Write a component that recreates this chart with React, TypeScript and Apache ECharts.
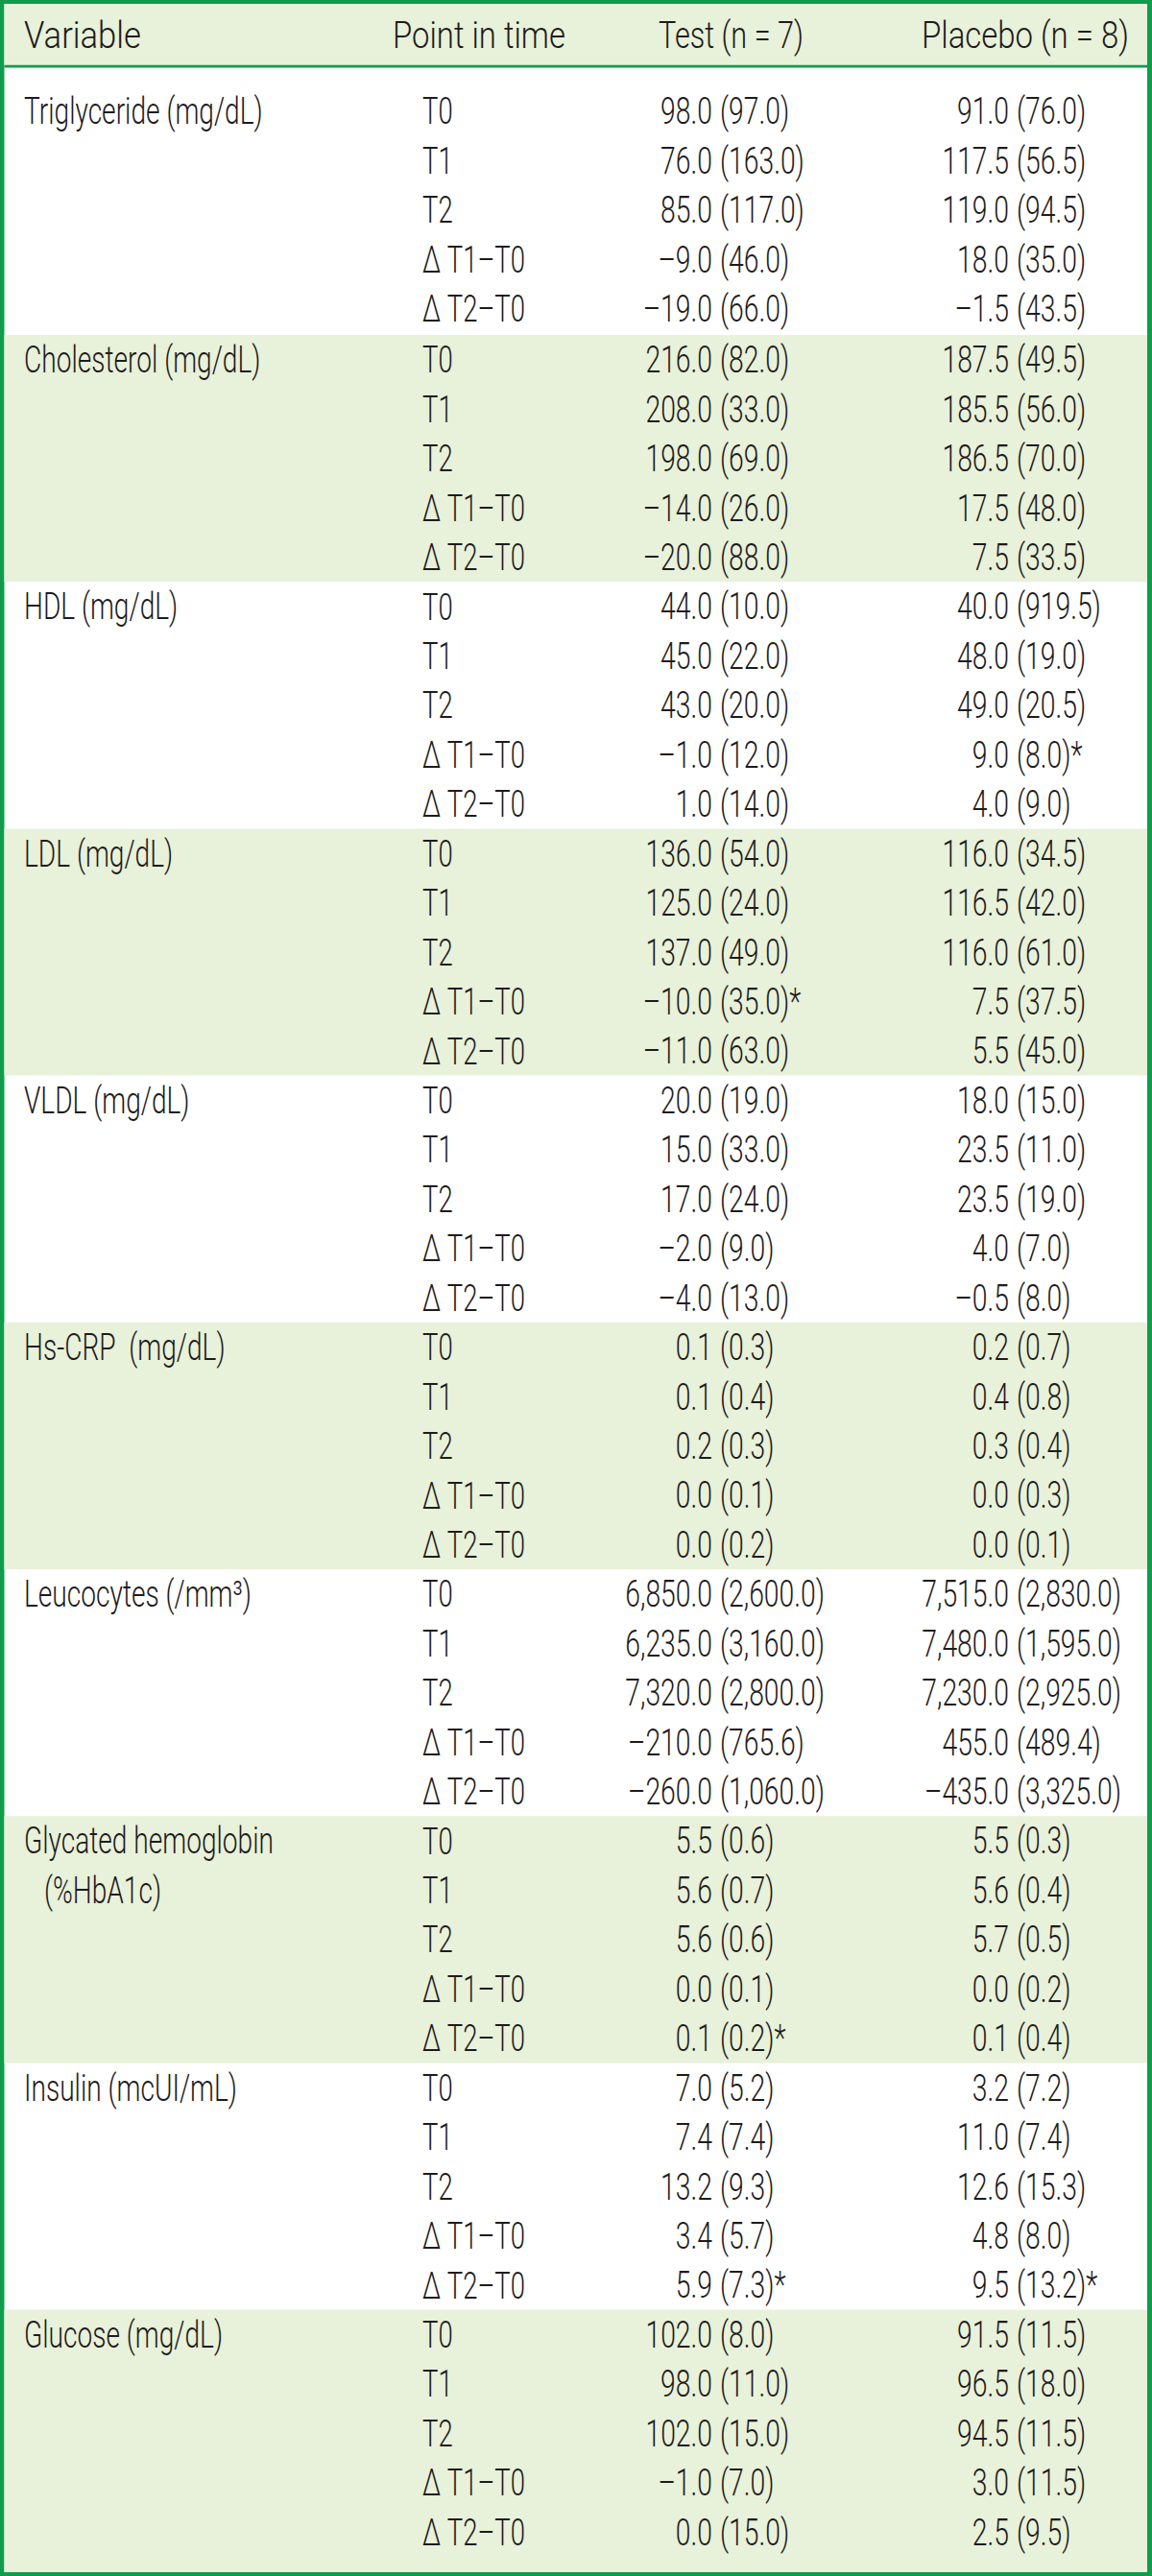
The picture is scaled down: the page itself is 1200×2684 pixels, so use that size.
import React, { useEffect, useRef } from "react";
import * as echarts from "echarts";

const W = 1200;
const H = 2684;

const headers = ["Variable", "Point in time", "Test (n = 7)", "Placebo (n = 8)"];
const variables = [
  "Triglyceride (mg/dL)",
  "Cholesterol (mg/dL)",
  "HDL (mg/dL)",
  "LDL (mg/dL)",
  "VLDL (mg/dL)",
  "Hs-CRP  (mg/dL)",
  "Leucocytes (/mm\u00b3)",
  "Glycated hemoglobin",
  "Insulin (mcUI/mL)",
  "Glucose (mg/dL)",
];
const variableSubLines = ["", "", "", "", "", "", "", "(%HbA1c)", "", ""];
const timePoints = ["T0", "T1", "T2", "\u0394 T1\u2013T0", "\u0394 T2\u2013T0"];

// [median, IQR] for each time point, per variable
const testValues = [
  [[98.0, 97.0], [76.0, 163.0], [85.0, 117.0], [-9.0, 46.0], [-19.0, 66.0]],
  [[216.0, 82.0], [208.0, 33.0], [198.0, 69.0], [-14.0, 26.0], [-20.0, 88.0]],
  [[44.0, 10.0], [45.0, 22.0], [43.0, 20.0], [-1.0, 12.0], [1.0, 14.0]],
  [[136.0, 54.0], [125.0, 24.0], [137.0, 49.0], [-10.0, 35.0], [-11.0, 63.0]],
  [[20.0, 19.0], [15.0, 33.0], [17.0, 24.0], [-2.0, 9.0], [-4.0, 13.0]],
  [[0.1, 0.3], [0.1, 0.4], [0.2, 0.3], [0.0, 0.1], [0.0, 0.2]],
  [[6850.0, 2600.0], [6235.0, 3160.0], [7320.0, 2800.0], [-210.0, 765.6], [-260.0, 1060.0]],
  [[5.5, 0.6], [5.6, 0.7], [5.6, 0.6], [0.0, 0.1], [0.1, 0.2]],
  [[7.0, 5.2], [7.4, 7.4], [13.2, 9.3], [3.4, 5.7], [5.9, 7.3]],
  [[102.0, 8.0], [98.0, 11.0], [102.0, 15.0], [-1.0, 7.0], [0.0, 15.0]],
];
const placeboValues = [
  [[91.0, 76.0], [117.5, 56.5], [119.0, 94.5], [18.0, 35.0], [-1.5, 43.5]],
  [[187.5, 49.5], [185.5, 56.0], [186.5, 70.0], [17.5, 48.0], [7.5, 33.5]],
  [[40.0, 919.5], [48.0, 19.0], [49.0, 20.5], [9.0, 8.0], [4.0, 9.0]],
  [[116.0, 34.5], [116.5, 42.0], [116.0, 61.0], [7.5, 37.5], [5.5, 45.0]],
  [[18.0, 15.0], [23.5, 11.0], [23.5, 19.0], [4.0, 7.0], [-0.5, 8.0]],
  [[0.2, 0.7], [0.4, 0.8], [0.3, 0.4], [0.0, 0.3], [0.0, 0.1]],
  [[7515.0, 2830.0], [7480.0, 1595.0], [7230.0, 2925.0], [455.0, 489.4], [-435.0, 3325.0]],
  [[5.5, 0.3], [5.6, 0.4], [5.7, 0.5], [0.0, 0.2], [0.1, 0.4]],
  [[3.2, 7.2], [11.0, 7.4], [12.6, 15.3], [4.8, 8.0], [9.5, 13.2]],
  [[91.5, 11.5], [96.5, 18.0], [94.5, 11.5], [3.0, 11.5], [2.5, 9.5]],
];
// significance markers [variable index, time index]
const testSignificant = [[3, 3], [7, 4], [8, 4]];
const placeboSignificant = [[2, 3], [8, 4]];

const GREEN = "#0f9d4b";
const BAND = "#e8f1d9";
const TEXT = "#1e1b1c";
const FONT = '300 38px Roboto, "Liberation Sans", sans-serif';

function fmt(v: number): string {
  const neg = v < 0;
  const s = Math.abs(v).toFixed(1);
  const [ip, dp] = s.split(".");
  const withComma = ip.replace(/\B(?=(\d{3})+(?!\d))/g, ",");
  return (neg ? "\u2013" : "") + withComma + "." + dp;
}

function makeMeasure() {
  let ctx: CanvasRenderingContext2D | null = null;
  try {
    ctx = document.createElement("canvas").getContext("2d");
    if (ctx) ctx.font = FONT;
  } catch (e) {
    ctx = null;
  }
  return (sample: string, target: number, fallback: number) => {
    if (!ctx) return fallback;
    const w = ctx.measureText(sample).width;
    return w ? target / w : fallback;
  };
}

function buildElements() {
  const fit = makeMeasure();
  const sxText = fit("Triglyceride (mg/dL)", 249, 0.75);
  const sxNum = fit("98.0 (97.0)", 133, 0.75);
  const sxTime = fit("\u0394 T1\u2013T0", 107, 0.75);
  const headerTargets = [122, 180, 151, 216];

  const txt = (text: string, x: number, y: number, align: string, sx: number) => ({
    type: "text",
    silent: true,
    x,
    y,
    scaleX: sx,
    style: {
      text,
      x: 0,
      y: 0,
      fill: TEXT,
      font: FONT,
      textAlign: align,
      textVerticalAlign: "middle",
      align,
      verticalAlign: "middle",
    },
  });
  const isSig = (list: number[][], g: number, r: number) => list.some((p) => p[0] === g && p[1] === r);

  const els: any[] = [];
  els.push({ type: "rect", shape: { x: 0, y: 0, width: W, height: H }, style: { fill: GREEN } });
  els.push({ type: "rect", shape: { x: 4.5, y: 4, width: 1190.5, height: 2676 }, style: { fill: "#ffffff" } });
  els.push({ type: "rect", shape: { x: 4.5, y: 4, width: 1190.5, height: 64 }, style: { fill: BAND } });
  els.push({ type: "rect", shape: { x: 4.5, y: 67.8, width: 1190.5, height: 2.6 }, style: { fill: GREEN } });

  const headerY = 37;
  const hx = [25, 409, 837, 1176];
  const ha = ["left", "left", "right", "right"];
  headers.forEach((h, i) => {
    els.push(txt(h, hx[i], headerY, ha[i], fit(h, headerTargets[i], sxText)));
  });

  const firstTop = 70.4;
  const firstPad = 21;
  const groupH = 257.2;
  const rowH = groupH / 5;
  const secondTop = 349;

  for (let g = 0; g < variables.length; g++) {
    const bandTop = g === 0 ? firstTop : secondTop + (g - 1) * groupH;
    const bandBottom = g === 0 ? secondTop : g === variables.length - 1 ? 2680 : secondTop + g * groupH;
    if (g % 2 === 1) {
      els.push({
        type: "rect",
        shape: { x: 4.5, y: bandTop, width: 1190.5, height: bandBottom - bandTop },
        style: { fill: BAND },
      });
    }
    const rowStart = g === 0 ? bandTop + firstPad - 1.4 : bandTop;
    for (let r = 0; r < timePoints.length; r++) {
      const cy = rowStart + (r + 0.5) * rowH + 0.5;
      if (r === 0) els.push(txt(variables[g], 25, cy, "left", sxText));
      if (r === 1 && variableSubLines[g]) els.push(txt(variableSubLines[g], 46, cy, "left", sxText));
      els.push(txt(timePoints[r], 440, cy, "left", sxTime));
      const tv = testValues[g][r];
      const pv = placeboValues[g][r];
      els.push(txt(fmt(tv[0]), 742, cy, "right", sxNum));
      els.push(txt("(" + fmt(tv[1]) + ")" + (isSig(testSignificant, g, r) ? "*" : ""), 750, cy, "left", sxNum));
      els.push(txt(fmt(pv[0]), 1051, cy, "right", sxNum));
      els.push(txt("(" + fmt(pv[1]) + ")" + (isSig(placeboSignificant, g, r) ? "*" : ""), 1059, cy, "left", sxNum));
    }
  }
  return els;
}

export default function App() {
  const ref = useRef<HTMLDivElement>(null);
  useEffect(() => {
    if (!ref.current) return;
    const chart = echarts.init(ref.current, null, { renderer: "svg", width: W, height: H });
    chart.setOption({
      animation: false,
      graphic: { elements: buildElements() },
    });
    return () => chart.dispose();
  }, []);
  return (
    <div
      ref={ref}
      style={{ position: "absolute", left: 0, top: 0, width: W, height: H, background: "#fff" }}
    />
  );
}
